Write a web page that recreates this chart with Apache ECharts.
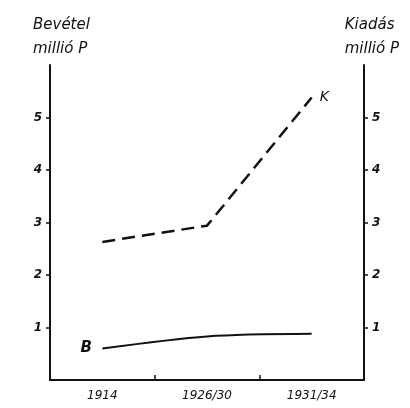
<!DOCTYPE html>
<html>
<head>
<meta charset="utf-8">
<script src="https://cdn.jsdelivr.net/npm/echarts@6/dist/echarts.min.js"></script>
<style>
  html, body { margin: 0; padding: 0; background: #fff; }
  #chart { width: 410px; height: 408px; }
</style>
</head>
<body>
<div id="chart"></div>
<script>
// időszakok
var periods = ['1914', '1926/30', '1931/34'];
// bevétel (B) és kiadás (K), millió P
var bevetel = [0.6, 0.83, 0.88];
var kiadas = [2.63, 2.94, 5.38];
var yTicks = [1, 2, 3, 4, 5];

var font = '"DejaVu Sans", sans-serif';
var ink = '#111';

var chart = echarts.init(document.getElementById('chart'));

function yAxisCfg(pos) {
	return {
		type: 'value'
		,position: pos
		,min: 0
		,max: 6
		,interval: 1
		,splitLine: { show: false }
		,axisLine: { show: true, lineStyle: { color: ink, width: 2 } }
		,axisTick: { show: true, customValues: yTicks, length: 4, lineStyle: { color: ink, width: 1.5 } }
		,axisLabel: {
			customValues: yTicks
			,color: ink
			,fontFamily: font
			,fontStyle: 'italic'
			,fontWeight: 'bold'
			,fontSize: 12
			,margin: 8
		}
	};
}

chart.setOption({
	animation: false
	,backgroundColor: '#fff'
	,title: [
		{
			text: 'Bevétel\nmillió P'
			,left: 28
			,top: 8
			,textStyle: { color: ink, fontFamily: font, fontStyle: 'italic', fontWeight: 'normal', fontSize: 15, lineHeight: 24 }
		},
		{
			text: 'Kiadás\nmillió P'
			,right: 6
			,top: 8
			,textAlign: 'left'
			,textStyle: { color: ink, fontFamily: font, fontStyle: 'italic', fontWeight: 'normal', fontSize: 15, lineHeight: 24, align: 'right' }
		}
	]
	,grid: { left: 50, right: 46, top: 65, bottom: 28 }
	,xAxis: {
		type: 'category'
		,data: periods
		,boundaryGap: true
		,axisLine: { lineStyle: { color: ink, width: 2 } }
		,axisTick: { show: true, inside: true, length: 5, lineStyle: { color: ink, width: 1.5 } }
		,axisLabel: { color: ink, fontFamily: font, fontStyle: 'italic', fontSize: 12, margin: 10 }
	}
	,yAxis: [yAxisCfg('left'), yAxisCfg('right')]
	,series: [
		{
			name: 'K'
			,type: 'line'
			,data: kiadas
			,symbol: 'none'
			,lineStyle: { color: ink, width: 2.5, type: [13, 7] }
			,endLabel: { show: true, formatter: 'K', color: ink, fontFamily: font, fontStyle: 'italic', fontSize: 14, distance: 8 }
		},
		{
			name: 'B'
			,type: 'line'
			,data: bevetel
			,symbol: 'none'
			,smooth: 0.3
			,lineStyle: { color: ink, width: 2 }
			,markPoint: {
				symbol: 'rect'
				,symbolSize: 1
				,itemStyle: { color: 'transparent' }
				,label: { show: true, position: 'left', distance: 10, formatter: 'B', color: ink, fontFamily: font, fontStyle: 'italic', fontWeight: 'bold', fontSize: 15 }
				,data: [{ coord: [0, bevetel[0]] }]
			}
		}
	]
});
</script>
</body>
</html>
